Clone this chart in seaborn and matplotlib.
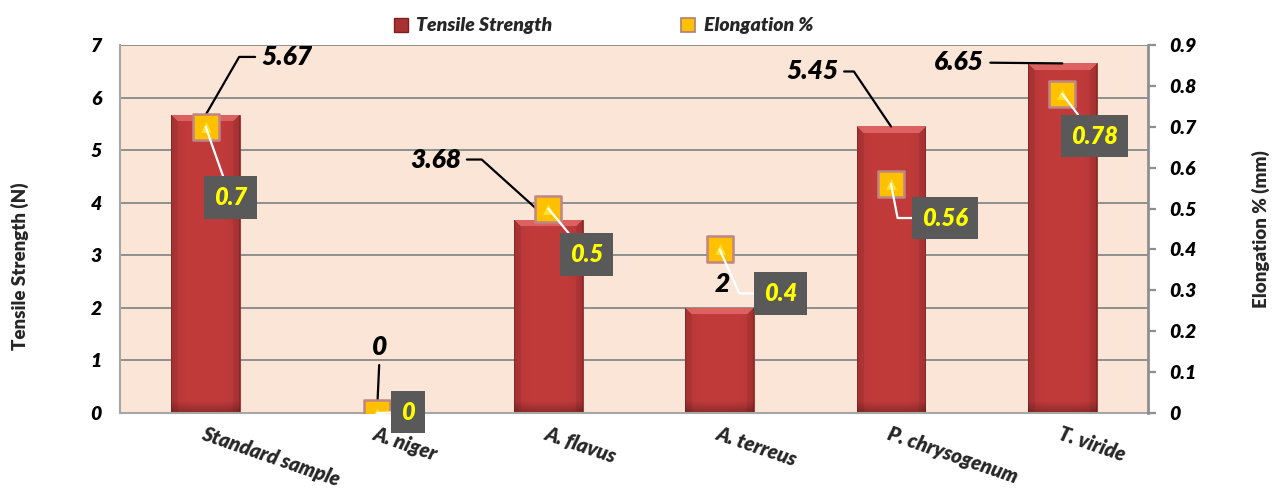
import numpy as np
import matplotlib
matplotlib.use("Agg")
import matplotlib.pyplot as plt
from matplotlib.lines import Line2D
import seaborn as sns

# ---- data ----
categories = ["Standard sample", "A. niger", "A. flavus", "A. terreus",
              "P. chrysogenum", "T. viride"]
tensile = [5.67, 0, 3.68, 2, 5.45, 6.65]          # N
elongation = [0.7, 0, 0.5, 0.4, 0.56, 0.78]       # %
tensile_ticks = [0, 1, 2, 3, 4, 5, 6, 7]
elong_ticks = [0, 0.1, 0.2, 0.3, 0.4, 0.5, 0.6, 0.7, 0.8, 0.9]
elong_tick_labels = ["0", "0.1", "0.2", "0.3", "0.4", "0.5", "0.6", "0.7", "0.8", "0.9"]

# label placement: text offsets in pixels and leader line style
tensile_label_offsets = [(81, 58), (3, 66), (-113, 60), (3, 24), (-79, 55), (-103, 1)]
tensile_leaders = ["angle,angleA=0,angleB=60", "arc3", "angle,angleA=0,angleB=138",
                   None, "angle,angleA=0,angleB=124", "arc3"]
elong_label_offsets = [(25, -71), (31, 1), (38, -46), (61, -44), (54, -34), (32, -42)]
elong_leaders = ["arc3", "arc3", "arc3", "angle,angleA=0,angleB=-66",
                 "angle,angleA=0,angleB=-79", "arc3"]

FONT = "Lato"
sns.set_theme(style="white")
plt.rcParams["font.family"] = [FONT, "DejaVu Sans"]

fig = plt.figure(figsize=(12.73, 4.94), dpi=100)
ax = fig.add_axes([120 / 1273, 1 - 413 / 494, 1028 / 1273, 368 / 494])
ax2 = ax.twinx()

BG = "#FBE5D6"
GRID = "#8F8F8F"
ax.set_facecolor(BG)
ax2.patch.set_visible(False)

# bars for tensile strength
sns.barplot(x=categories, y=tensile, color="#BF3A3A", width=0.4, ax=ax,
            saturation=1, linewidth=0)
ax.set_xlim(-0.5, len(categories) - 0.5)
ax.set_ylim(0, 7)
ax.set_yticks(tensile_ticks)
ax.yaxis.grid(True, color=GRID, linewidth=1.4)
ax.set_axisbelow(True)

# bevelled shading on each bar
fig.canvas.draw()
for p in list(ax.patches):
    x0, y0, w, h = p.get_x(), p.get_y(), p.get_width(), p.get_height()
    if h <= 0:
        continue
    (px0, py0), (px1, py1) = ax.transData.transform([(x0, y0), (x0 + w, y0 + h)])
    W, H = max(int(px1 - px0), 2), max(int(py1 - py0), 2)
    u = (np.arange(W) + 0.5)[None, :].repeat(H, 0)
    v = (np.arange(H) + 0.5)[:, None].repeat(W, 1)
    base = np.array([0.76, 0.23, 0.23])
    img = np.ones((H, W, 3)) * base
    t = np.abs(2 * u / W - 1)
    img *= (1 - 0.10 * t ** 4)[..., None]
    b = 7.0
    dl, dr, dt = u, W - u, v
    dbot = H - v
    top = (dt < b) & (dt <= dl) & (dt <= dr)
    side = ((dl < b) | (dr < b)) & ~top
    light = np.array([0.92, 0.45, 0.45])
    img[top] = light * 0.7 + img[top] * 0.3
    img[side] *= 0.93
    edge = (dl < 1.5) | (dr < 1.5)
    img[edge] *= 0.85
    bot = (dbot < 12)
    img[bot] *= (0.72 + 0.28 * (dbot[bot] / 12))[..., None]
    im = ax.imshow(img, extent=(x0, x0 + w, y0, y0 + h), aspect="auto",
                   zorder=p.get_zorder() + 0.1, interpolation="bilinear")
    im.set_clip_path(p)
    p.set_edgecolor("#9E2A2A")
    p.set_linewidth(0.6)
ax.set_xlim(-0.5, len(categories) - 0.5)
ax.set_ylim(0, 7)

# markers for elongation
xpos = np.arange(len(categories))
sns.scatterplot(x=xpos, y=elongation, marker="s", s=330, color="#FFC000",
                edgecolor="#C08585", linewidth=1.8, ax=ax2, zorder=5, legend=False)
sns.scatterplot(x=xpos, y=elongation, marker="^", s=60, color="#FFE22E",
                linewidth=0, ax=ax2, zorder=6, legend=False)
ax2.set_ylim(0, 0.9)
ax2.set_yticks(elong_ticks)
ax2.set_yticklabels(elong_tick_labels)

# spines and ticks
for a in (ax, ax2):
    for s in a.spines.values():
        s.set_visible(False)
ax.spines["left"].set_visible(True)
ax.spines["left"].set_color("#A6A6A6")
ax.spines["left"].set_linewidth(1.5)
ax.spines["bottom"].set_visible(True)
ax.spines["bottom"].set_color("#A6A6A6")
ax.spines["bottom"].set_linewidth(1.5)
ax2.spines["right"].set_visible(True)
ax2.spines["right"].set_color("#8F8F8F")
ax2.spines["right"].set_linewidth(2)

tick_font = dict(family=[FONT, "DejaVu Sans"], weight="heavy", style="italic", size=14)
ax.tick_params(axis="y", length=0, pad=13)
ax2.tick_params(axis="y", length=6, width=1.6, color="#8F8F8F", pad=9, direction="out")
ax.tick_params(axis="x", length=0, pad=8)
for lbl in ax.get_yticklabels() + ax2.get_yticklabels():
    lbl.set_fontproperties(tick_font)
    lbl.set_color("black")
ax.set_xticks(xpos)
ax.set_xticklabels(categories, rotation=-19, ha="left", va="top",
                   rotation_mode="anchor", family=[FONT, "DejaVu Sans"],
                   weight="heavy", style="italic", size=14.5)

ax.set_ylabel("Tensile Strength (N)", fontsize=13.5, weight="heavy",
              family=[FONT, "DejaVu Sans"])
ax.yaxis.set_label_coords(-0.089, 0.40)
ax2.set_ylabel("Elongation % (mm)", fontsize=13.5, weight="heavy",
               family=[FONT, "DejaVu Sans"], labelpad=40)

# tensile value labels
for i, (val, off, cs) in enumerate(zip(tensile, tensile_label_offsets, tensile_leaders)):
    arrow = None
    if cs is not None:
        arrow = dict(arrowstyle="-", color="black", lw=1.6, connectionstyle=cs,
                     shrinkA=2, shrinkB=0)
    ax.annotate(f"{val:g}", xy=(i, val), xytext=off, textcoords="offset pixels",
                ha="center", va="center", fontsize=19, weight="heavy",
                style="italic", color="black", arrowprops=arrow,
                annotation_clip=False, zorder=8)

# elongation value labels
for i, (val, off, cs) in enumerate(zip(elongation, elong_label_offsets, elong_leaders)):
    ax2.annotate(f"{val:g}", xy=(i, val), xytext=off, textcoords="offset pixels",
                 ha="center", va="center", fontsize=17, weight="heavy",
                 style="italic", color="#FFFF00",
                 bbox=dict(boxstyle="square,pad=0.42", fc="#595959", ec="none"),
                 arrowprops=dict(arrowstyle="-", color="white", lw=1.6,
                                 connectionstyle=cs, shrinkA=0, shrinkB=0),
                 annotation_clip=False, zorder=9)

# legend
handles = [
    Line2D([], [], marker="s", linestyle="none", markersize=10,
           markerfacecolor="#A83232", markeredgecolor="#7E2020", markeredgewidth=1),
    Line2D([], [], marker="s", linestyle="none", markersize=10,
           markerfacecolor="#FFC000", markeredgecolor="#B07B7B", markeredgewidth=1.2),
]
fig.legend(handles, ["Tensile Strength", "Elongation %"], loc="upper center",
           bbox_to_anchor=(0.473, 1.0), ncol=2, frameon=False, columnspacing=6.5,
           handletextpad=0.3, handlelength=1.0,
           prop=dict(family=[FONT, "DejaVu Sans"], weight="heavy", style="italic", size=14))

fig.savefig("out.png", dpi=100)
